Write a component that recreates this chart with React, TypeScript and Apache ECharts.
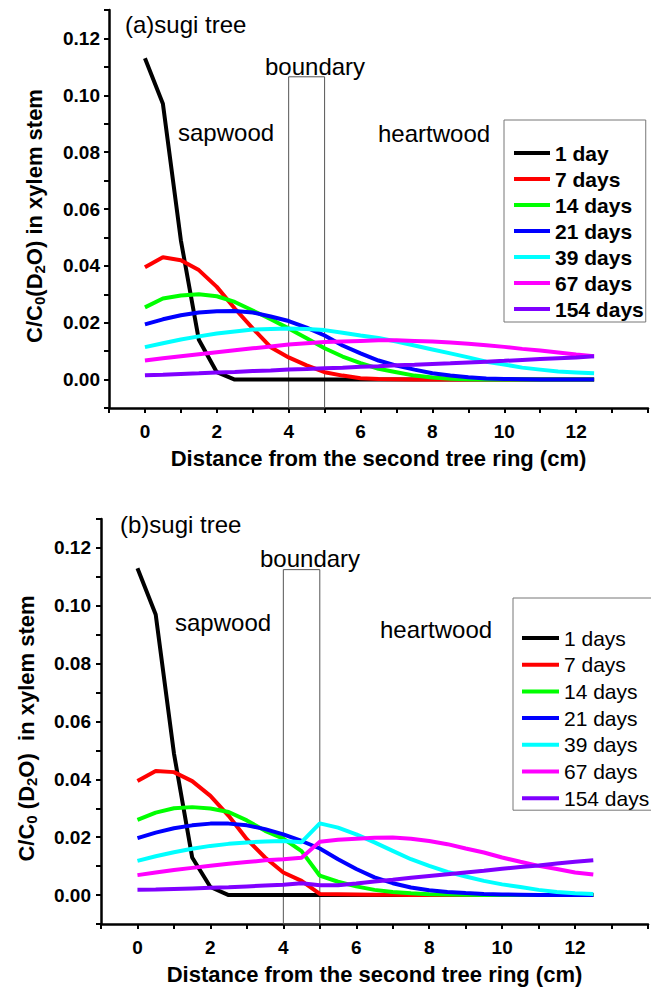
import React, { useEffect, useRef } from "react";
import * as echarts from "echarts";

const FONT = "Liberation Sans, Arial, Helvetica, sans-serif";

// distance from the second tree ring (cm)
const xs = [0, 0.5, 1, 1.5, 2, 2.5, 3, 3.5, 4, 4.5, 5, 5.5, 6, 6.5, 7, 7.5, 8, 8.5, 9, 9.5, 10, 10.5, 11, 11.5, 12, 12.5];

const namesA = ["1 day", "7 days", "14 days", "21 days", "39 days", "67 days", "154 days"];
const namesB = ["1 days", "7 days", "14 days", "21 days", "39 days", "67 days", "154 days"];
const colors = ["#000000", "#ff0000", "#00ff00", "#0000ff", "#00ffff", "#ff00ff", "#8000ff"];

// (a) sugi tree
const a1 = [0.113, 0.097, 0.049, 0.014, 0.0026, 0, 0, 0, 0, 0, 0, 0, 0, 0, 0, 0, 0, 0, 0, 0, 0, 0, 0, 0, 0, 0];
const a7 = [0.0395, 0.043, 0.042, 0.0385, 0.0326, 0.025, 0.018, 0.0114, 0.0078, 0.005, 0.0026, 0.0014, 0.0005, 0.0002, 0.0001, 0, 0, 0, 0, 0, 0, 0, 0, 0, 0, 0];
const a14 = [0.0254, 0.0285, 0.0296, 0.03, 0.0293, 0.0273, 0.0243, 0.0212, 0.018, 0.0145, 0.011, 0.0081, 0.0058, 0.0038, 0.0026, 0.0014, 0.0007, 0.0003, 0.0001, 0, 0, 0, 0, 0, 0, 0];
const a21 = [0.0194, 0.0212, 0.0226, 0.0236, 0.024, 0.0241, 0.0236, 0.0222, 0.0206, 0.0183, 0.0155, 0.012, 0.0092, 0.0067, 0.0049, 0.0035, 0.0022, 0.0014, 0.0008, 0.0004, 0.0002, 0.0001, 0, 0, 0, 0];
const a39 = [0.0114, 0.0128, 0.0141, 0.0152, 0.0162, 0.0169, 0.0176, 0.0178, 0.018, 0.0178, 0.0174, 0.0165, 0.0155, 0.0146, 0.0134, 0.012, 0.0106, 0.0092, 0.0078, 0.0063, 0.0053, 0.0042, 0.0035, 0.0028, 0.0025, 0.0022];
const a67 = [0.0067, 0.0075, 0.0082, 0.0089, 0.0096, 0.0103, 0.011, 0.0116, 0.0123, 0.0128, 0.0132, 0.0134, 0.0136, 0.0138, 0.0138, 0.0136, 0.0134, 0.013, 0.0126, 0.0121, 0.0115, 0.0108, 0.0102, 0.0095, 0.0088, 0.0082];
const a154 = [0.0015, 0.0017, 0.002, 0.0022, 0.0025, 0.0027, 0.003, 0.0032, 0.0035, 0.0037, 0.004, 0.0042, 0.0045, 0.0047, 0.005, 0.0052, 0.0055, 0.0057, 0.006, 0.0063, 0.0066, 0.0069, 0.0072, 0.0075, 0.0078, 0.0082];

// (b) sugi tree
const b1 = [0.113, 0.097, 0.049, 0.013, 0.0028, 0, 0, 0, 0, 0, 0, 0, 0, 0, 0, 0, 0, 0, 0, 0, 0, 0, 0, 0, 0, 0];
const b7 = [0.0394, 0.0429, 0.0425, 0.0394, 0.0343, 0.0274, 0.0193, 0.013, 0.0078, 0.0049, 0.0004, 0.0003, 0.0002, 0.0001, 0.0001, 0, 0, 0, 0, 0, 0, 0, 0, 0, 0, 0];
const b14 = [0.026, 0.0285, 0.03, 0.0304, 0.0299, 0.0287, 0.0258, 0.0222, 0.0195, 0.0152, 0.0067, 0.0046, 0.003, 0.0018, 0.0011, 0.0006, 0.0003, 0.0002, 0.0001, 0, 0, 0, 0, 0, 0, 0];
const b21 = [0.0197, 0.0216, 0.0231, 0.0241, 0.0247, 0.0247, 0.0241, 0.0228, 0.021, 0.0187, 0.0161, 0.0124, 0.009, 0.0061, 0.0041, 0.0026, 0.0017, 0.0011, 0.0007, 0.0004, 0.0002, 0.0001, 0, 0, 0, 0];
const b39 = [0.0118, 0.0134, 0.0148, 0.016, 0.017, 0.0177, 0.0182, 0.0185, 0.0187, 0.0183, 0.0248, 0.0233, 0.021, 0.0182, 0.0153, 0.0124, 0.0101, 0.008, 0.0064, 0.0049, 0.0037, 0.0028, 0.0018, 0.0011, 0.0006, 0.0004];
const b67 = [0.0069, 0.0078, 0.0087, 0.0094, 0.0101, 0.0108, 0.0114, 0.012, 0.0124, 0.0129, 0.0184, 0.0191, 0.0195, 0.0198, 0.0199, 0.0195, 0.0187, 0.0176, 0.0161, 0.0147, 0.013, 0.0115, 0.0101, 0.009, 0.0078, 0.0071];
const b154 = [0.0018, 0.0019, 0.0021, 0.0023, 0.0025, 0.0027, 0.003, 0.0033, 0.0036, 0.0041, 0.0034, 0.0034, 0.004, 0.0047, 0.0053, 0.006, 0.0066, 0.0072, 0.0078, 0.0084, 0.0091, 0.0097, 0.0102, 0.0109, 0.0115, 0.012];

const seriesA = [a1, a7, a14, a21, a39, a67, a154];
const seriesB = [b1, b7, b14, b21, b39, b67, b154];

// boundary zone (cm) and its top (C/C0)
const boundaryX = [4, 5];
const boundaryTopA = 0.1065;
const boundaryTopB = 0.1125;

const pairs = (vals: number[]) => xs.map((x, i) => [x, vals[i]]);

function xAxisFor(gridIndex: number) {
  return {
    gridIndex,
    type: "value",
    min: -1,
    max: 14,
    interval: 1,
    axisLine: { show: true, onZero: false, lineStyle: { color: "#000", width: 2.5 } },
    axisTick: { show: true, inside: false, length: 5, lineStyle: { color: "#000", width: 2 } },
    axisLabel: {
      show: true,
      margin: 14,
      fontSize: 19,
      fontWeight: "bold",
      color: "#000",
      fontFamily: FONT,
      formatter: (v: number) => {
        const k = Math.round(v);
        return k >= 0 && k <= 12 && k % 2 === 0 ? String(k) : "";
      },
    },
    splitLine: { show: false },
    name: "Distance from the second tree ring (cm)",
    nameLocation: "middle",
    nameGap: 39,
    nameTextStyle: { fontSize: 22, fontWeight: "bold", color: "#000", fontFamily: FONT },
  };
}

function yAxisFor(gridIndex: number, name: string, margin: number) {
  const m = { fontSize: 22, fontWeight: "bold", color: "#000", fontFamily: FONT, lineHeight: 26, verticalAlign: "middle" };
  return {
    gridIndex,
    type: "value",
    min: -0.01,
    max: 0.13,
    interval: 0.01,
    axisLine: { show: true, onZero: false, lineStyle: { color: "#000", width: 2.5 } },
    axisTick: { show: true, inside: false, length: 5, lineStyle: { color: "#000", width: 2 } },
    axisLabel: {
      show: true,
      margin,
      fontSize: 19,
      fontWeight: "bold",
      color: "#000",
      fontFamily: FONT,
      formatter: (v: number) => {
        const k = Math.round(v * 100);
        return k >= 0 && k <= 12 && k % 2 === 0 ? (k / 100).toFixed(2) : "";
      },
    },
    splitLine: { show: false },
    name,
    nameLocation: "middle",
    nameGap: 62,
    nameTextStyle: {
      rich: {
        m,
        s: { fontSize: 15, fontWeight: "bold", color: "#000", fontFamily: FONT, lineHeight: 10, verticalAlign: "bottom" },
        g: { width: 14, lineHeight: 26 },
      },
    },
  };
}

function makeSeries(data: number[][], names: string[], idx: number, boundaryTop: number) {
  return data.map((vals, i) => {
    const s: any = {
      name: names[i],
      type: "line",
      xAxisIndex: idx,
      yAxisIndex: idx,
      data: pairs(vals),
      symbol: "none",
      showSymbol: false,
      smooth: false,
      lineStyle: { color: colors[i], width: 4 },
      itemStyle: { color: colors[i] },
      emphasis: { disabled: true },
      silent: true,
    };
    if (i === 0) {
      s.markArea = {
        silent: true,
        itemStyle: { color: "rgba(0,0,0,0)", borderColor: "#555", borderWidth: 1 },
        label: { show: false },
        emphasis: { disabled: true },
        data: [[{ coord: [boundaryX[0], -0.01] }, { coord: [boundaryX[1], boundaryTop] }]],
      };
    }
    return s;
  });
}

function annot(text: string, x: number, y: number) {
  return {
    type: "text",
    x,
    y,
    silent: true,
    style: {
      text,
      fill: "#000",
      fontSize: 24,
      fontFamily: FONT,
      fontWeight: "normal",
      align: "left",
      textAlign: "left",
      verticalAlign: "middle",
      textVerticalAlign: "middle",
    },
  };
}

export default function App() {
  const ref = useRef<HTMLDivElement>(null);
  useEffect(() => {
    document.body.style.margin = "0";
    document.body.style.overflow = "hidden";
    if (!ref.current) return;
    const chart = echarts.init(ref.current, null, { renderer: "svg" });
    const option: any = {
      animation: false,
      backgroundColor: "#ffffff",
      grid: [
        { left: 109, top: 10, width: 543, height: 398 },
        { left: 101, top: 519, width: 555, height: 405 },
      ],
      xAxis: [xAxisFor(0), xAxisFor(1)],
      yAxis: [
        yAxisFor(0, "{m|C/C}{s|0}{m|(D}{s|2}{m|O) in xylem stem}{g| }", 9),
        yAxisFor(1, "{m|C/C}{s|0}{m| (D}{s|2}{m|O)  in xylem stem}{g| }", 10),
      ],
      legend: [
        {
          orient: "vertical",
          left: 504,
          top: 120,
          padding: [22, 2, 2, 10],
          itemWidth: 36,
          itemHeight: 4,
          itemGap: 4,
          icon: "rect",
          borderColor: "#777",
          borderWidth: 1,
          selectedMode: false,
          textStyle: { fontSize: 21, fontWeight: "bold", lineHeight: 22, color: "#000", fontFamily: FONT },
          data: namesA,
        },
        {
          orient: "vertical",
          left: 513,
          top: 598,
          padding: [29, 4, 1, 9],
          itemWidth: 37,
          itemHeight: 4,
          itemGap: 4.7,
          icon: "rect",
          borderColor: "#777",
          borderWidth: 1,
          selectedMode: false,
          textStyle: { fontSize: 21, fontWeight: "normal", lineHeight: 22, color: "#000", fontFamily: FONT },
          data: namesB,
        },
      ],
      graphic: [
        annot("(a)sugi tree", 125, 24),
        annot("boundary", 265, 66),
        annot("sapwood", 178, 132),
        annot("heartwood", 378, 133),
        annot("(b)sugi tree", 120, 524),
        annot("boundary", 260, 558),
        annot("sapwood", 175, 622),
        annot("heartwood", 380, 629),
      ],
      series: [...makeSeries(seriesA, namesA, 0, boundaryTopA), ...makeSeries(seriesB, namesB, 1, boundaryTopB)],
    };
    chart.setOption(option);
    return () => chart.dispose();
  }, []);
  return <div ref={ref} style={{ position: "absolute", left: 0, top: 0, width: 651, height: 990 }} />;
}
